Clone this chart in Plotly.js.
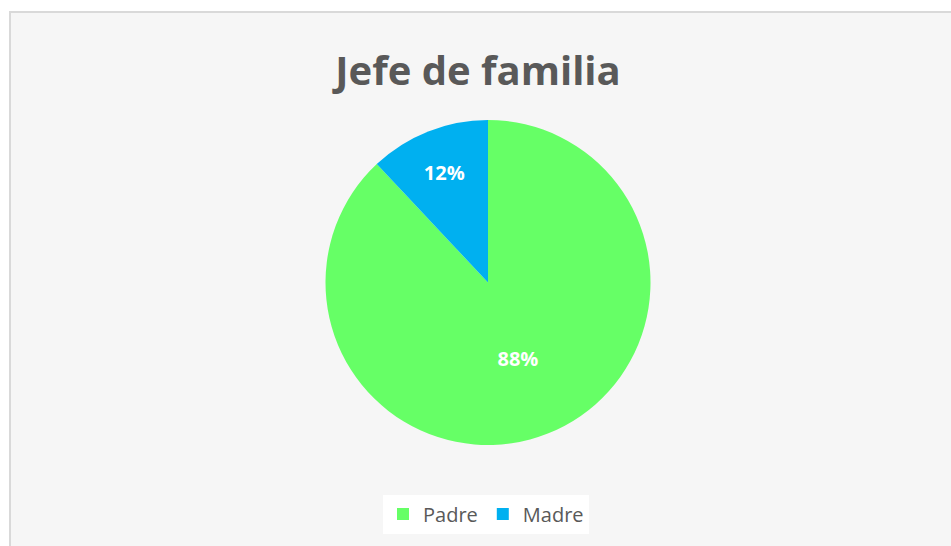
<!DOCTYPE html>
<html>
<head>
<meta charset="utf-8">
<script src="https://cdn.plot.ly/plotly-3.0.1.min.js"></script>
<style>html,body{margin:0;padding:0;background:#fff;}#chart{width:951px;height:546px;}</style>
</head>
<body>
<div id="chart"></div>
<script>
const categories = ['Padre', 'Madre'];
const values = [88, 12];
const colors = ['#66FF66', '#00B0F0'];
const chartTitle = 'Jefe de familia';

const W = 951, H = 546;

const trace = {
  type: 'pie',
  labels: categories,
  values: values,
  sort: false,
  direction: 'clockwise',
  rotation: 0,
  marker: { colors: colors, line: { width: 0 } },
  textinfo: 'percent',
  texttemplate: '%{percent:.0%}',
  textposition: 'inside',
  insidetextorientation: 'horizontal',
  textfont: { family: 'Open Sans, Liberation Sans, sans-serif', size: 20, color: '#FFFFFF', weight: 'bold' },
  hoverinfo: 'label+percent',
  domain: { x: [(488 - 165) / W, (488 + 165) / W], y: [1 - 445 / H, 1 - 120 / H] }
};

const layout = {
  width: W, height: H,
  margin: { l: 0, r: 0, t: 0, b: 0 },
  paper_bgcolor: '#FFFFFF',
  showlegend: true,
  title: {
    text: '<b>' + chartTitle + '</b>',
    font: { family: 'Open Sans, Liberation Sans, sans-serif', size: 40, color: '#595959' },
    x: 478 / W, xanchor: 'center', xref: 'paper',
    y: 1 - 71 / H, yanchor: 'middle', yref: 'paper'
  },
  legend: {
    orientation: 'h',
    x: 486 / W, xanchor: 'center',
    y: 1 - 514 / H, yanchor: 'middle',
    bgcolor: '#FFFFFF',
    font: { family: 'Open Sans, Liberation Sans, sans-serif', size: 20, color: '#595959' },
    itemwidth: 30
  },
  shapes: [{
    type: 'rect', xref: 'paper', yref: 'paper', layer: 'below',
    x0: 10 / W, x1: 1.01, y0: -0.01, y1: 1 - 12 / H,
    fillcolor: '#F6F6F6', line: { color: '#D9D9D9', width: 2 }
  }]
};

Plotly.newPlot('chart', [trace], layout, { displayModeBar: false, staticPlot: true });
</script>
</body>
</html>
